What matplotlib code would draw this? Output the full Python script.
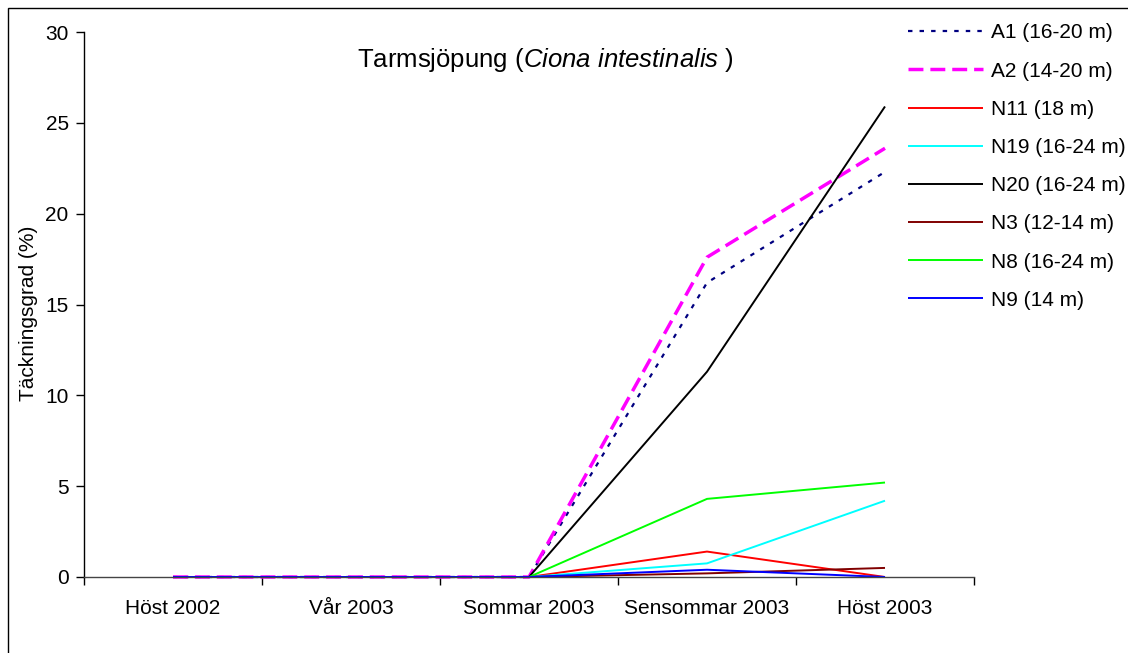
import matplotlib
matplotlib.use("Agg")
import matplotlib.pyplot as plt
from matplotlib.patches import Rectangle

plt.rcParams['font.family'] = ['Liberation Sans', 'DejaVu Sans']
plt.rcParams['mathtext.fontset'] = 'custom'
plt.rcParams['mathtext.rm'] = 'Liberation Sans'
plt.rcParams['mathtext.it'] = 'Liberation Sans:italic'

categories = ["Höst 2002", "Vår 2003", "Sommar 2003", "Sensommar 2003", "Höst 2003"]

series_names = ["A1 (16-20 m)", "A2 (14-20 m)", "N11 (18 m)", "N19 (16-24 m)",
                "N20 (16-24 m)", "N3 (12-14 m)", "N8 (16-24 m)", "N9 (14 m)"]
a1 = [0, 0, 0, 16.2, 22.3]
a2 = [0, 0, 0, 17.6, 23.6]
n11 = [0, 0, 0, 1.4, 0]
n19 = [0, 0, 0, 0.75, 4.2]
n20 = [0, 0, 0, 11.3, 25.9]
n3 = [0, 0, 0, 0.2, 0.5]
n8 = [0, 0, 0, 4.3, 5.2]
n9 = [0, 0, 0, 0.4, 0]

yticks = [0, 5, 10, 15, 20, 25, 30]

W, H = 1128, 653
fig = plt.figure(figsize=(W / 100, H / 100), dpi=100)
ax = fig.add_axes([84 / W, 76 / H, 890 / W, 545 / H])

x = list(range(len(categories)))
styles = [
    dict(color="#000080", lw=1.6, ls=(0, (2, 3.2))),
    dict(color="#FF00FF", lw=2.5, ls=(0, (4.3, 2.0))),
    dict(color="#FF0000", lw=1.4, ls="-"),
    dict(color="#00FFFF", lw=1.4, ls="-"),
    dict(color="#000000", lw=1.4, ls="-"),
    dict(color="#800000", lw=1.4, ls="-"),
    dict(color="#00FF00", lw=1.4, ls="-"),
    dict(color="#0000FF", lw=1.4, ls="-"),
]
data = [a1, a2, n11, n19, n20, n3, n8, n9]
handles = []
for vals, name, st in zip(data, series_names, styles):
    h, = ax.plot(x, vals, label=name, color=st["color"], linewidth=st["lw"],
                 linestyle=st["ls"], clip_on=False, solid_capstyle="butt")
    handles.append(h)

ax.set_xlim(-0.5, len(categories) - 0.5)
ax.set_ylim(0, 30)
ax.set_yticks(yticks)
ax.set_yticklabels([str(v) for v in yticks])
ax.set_xticks([i - 0.5 for i in range(len(categories) + 1)])
ax.set_xticklabels([""] * (len(categories) + 1))
ax.set_xticks(x, minor=True)
ax.set_xticklabels(categories, minor=True)
ax.tick_params(axis="x", which="major", direction="out", length=6, width=1)
ax.tick_params(axis="x", which="minor", length=0, pad=16, labelsize=15)
ax.tick_params(axis="y", direction="out", length=6, width=1, pad=5, labelsize=15)

for s in ["top", "right"]:
    ax.spines[s].set_visible(False)
ax.spines["left"].set_linewidth(1)
ax.spines["bottom"].set_linewidth(1)
ax.spines["bottom"].set_color("#444444")

ax.text(0.5185, 28.45 / 30, r"Tarmsjöpung ($\mathit{Ciona\ intestinalis}$ )",
        transform=ax.transAxes, fontsize=18.5, ha="center", va="center")

fig.text(29 / W, 1 - 313 / H, "Täckningsgrad (%)", rotation=90, fontsize=15,
         ha="center", va="center")

fig.legend(handles=handles, loc="upper left", bbox_to_anchor=(908 / W, 1 - 23.5 / H),
           frameon=False, fontsize=15, handlelength=3.6, handletextpad=0.4,
           labelspacing=0.92, borderpad=0, borderaxespad=0)

fig.patches.append(Rectangle((8 / W, -0.1), 1.2, 1 - 8 / H + 0.1, transform=fig.transFigure,
                             fill=False, edgecolor="black", linewidth=1))

fig.savefig("out.png", dpi=100)
